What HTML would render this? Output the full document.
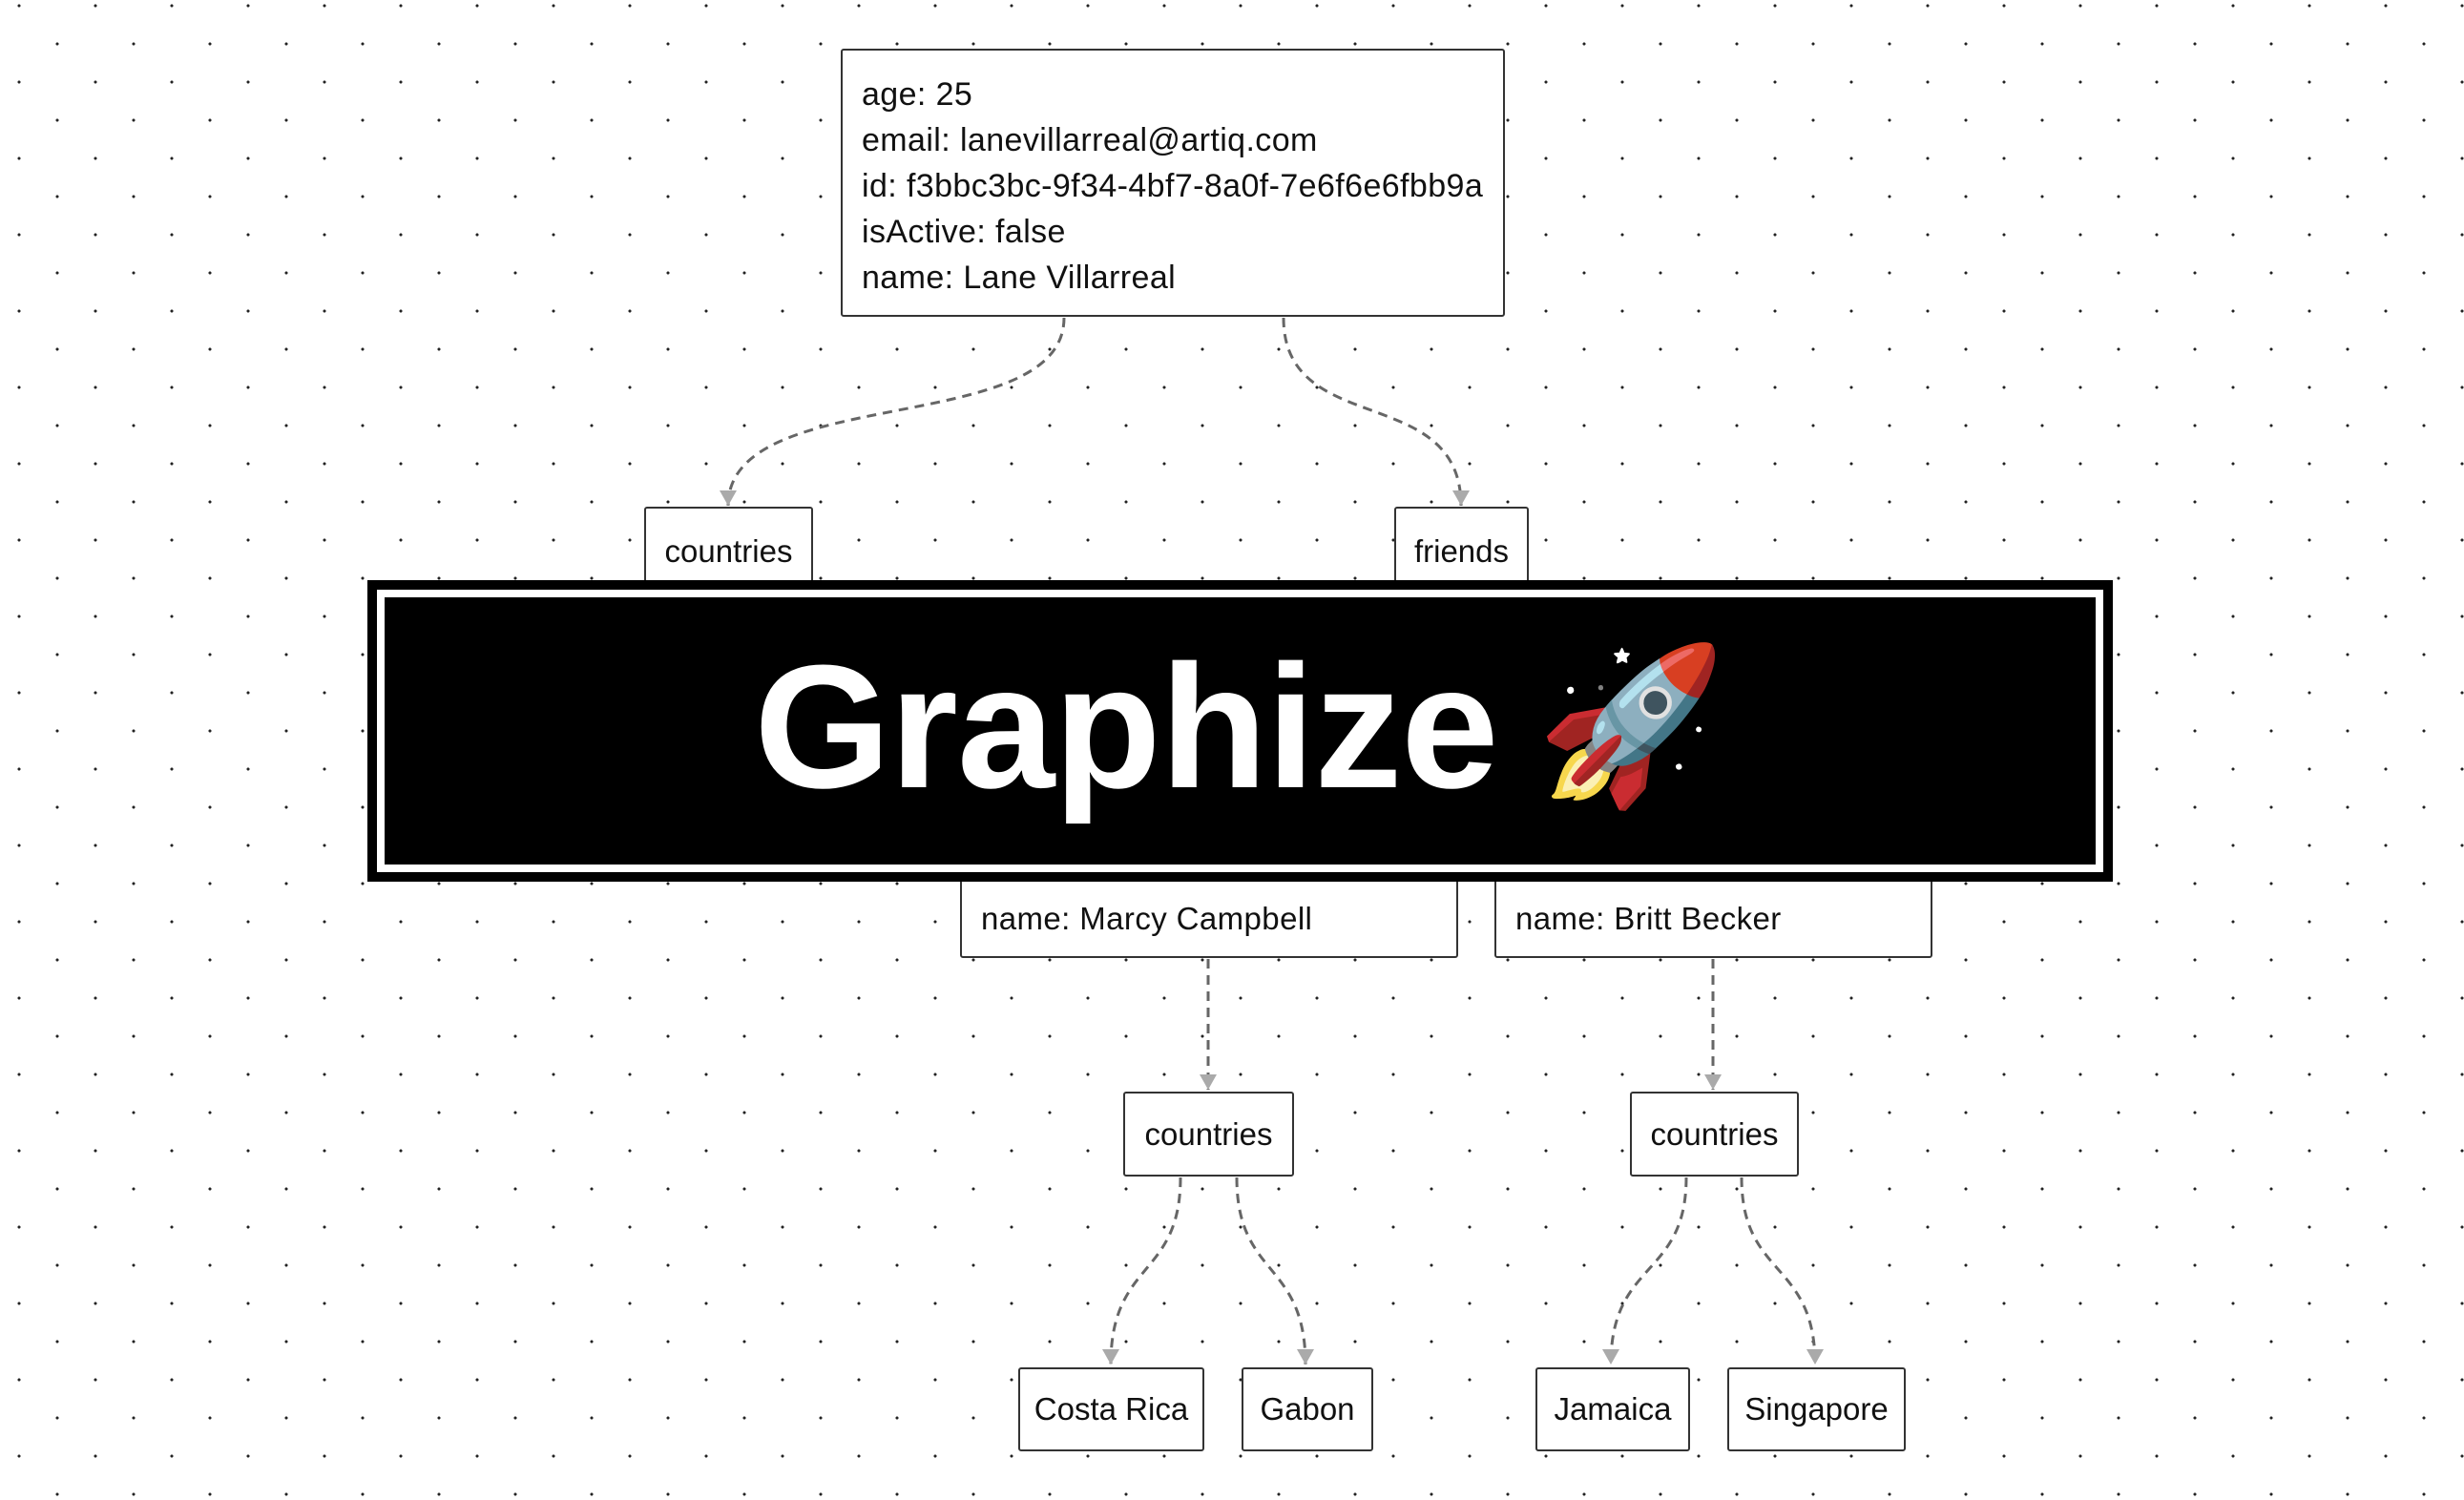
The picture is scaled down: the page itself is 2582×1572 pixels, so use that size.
<!DOCTYPE html>
<html><head><meta charset="utf-8"><style>
html,body{margin:0;padding:0}
body{width:2582px;height:1572px;position:relative;overflow:hidden;background-color:#fff;
background-image:radial-gradient(circle,#222 1.3px,transparent 1.8px),radial-gradient(circle,#222 1.3px,transparent 1.8px);
background-size:80px 80px,80px 80px;background-position:-20px -34px,20px 6px;
font-family:"Liberation Sans",sans-serif;color:#111}
.b{position:absolute;background:#fff;border:2px solid #333;border-radius:3px;box-sizing:border-box;font-size:33px}
.c{display:flex;align-items:center;justify-content:center}
svg{position:absolute;left:0;top:0}
</style></head><body>
<svg width="2582" height="1572">
<defs><marker id="a" markerWidth="16" markerHeight="18" refX="16" refY="9" orient="auto" markerUnits="userSpaceOnUse" viewBox="0 0 16 18"><path d="M0,0 L16,9 L0,18z" fill="#aaa"/></marker></defs>
<g fill="none" stroke="#666" stroke-width="3" stroke-dasharray="10,7">
<path d="M1115,333 C1115,460 763,400 763,530" marker-end="url(#a)"/>
<path d="M1345,333 C1345,460 1531,400 1531,530" marker-end="url(#a)"/>
<path d="M1266,1005 L1266,1142" marker-end="url(#a)"/>
<path d="M1795,1005 L1795,1142" marker-end="url(#a)"/>
<path d="M1237,1234 C1237,1340 1164,1320 1164,1430" marker-end="url(#a)"/>
<path d="M1296,1234 C1296,1340 1368,1320 1368,1430" marker-end="url(#a)"/>
<path d="M1767,1234 C1767,1340 1688,1320 1688,1430" marker-end="url(#a)"/>
<path d="M1825,1234 C1825,1340 1902,1320 1902,1430" marker-end="url(#a)"/>
</g></svg>
<div class="b" style="left:881px;top:51px;width:696px;height:281px;padding:22px 0 0 20px;line-height:48px;font-size:34px;letter-spacing:0.4px">age: 25<br>email: lanevillarreal@artiq.com<br>id: f3bbc3bc-9f34-4bf7-8a0f-7e6f6e6fbb9a<br>isActive: false<br>name: Lane Villarreal</div>
<div class="b c" style="left:675px;top:531px;width:177px;height:100px;align-items:flex-start;padding-top:26px">countries</div>
<div class="b c" style="left:1461px;top:531px;width:141px;height:100px;align-items:flex-start;padding-top:26px">friends</div>
<div class="b" style="left:1006px;top:900px;width:522px;height:104px;padding:42px 0 0 20px;letter-spacing:0.4px">name: Marcy Campbell</div>
<div class="b" style="left:1566px;top:900px;width:459px;height:104px;padding:42px 0 0 20px;letter-spacing:0.4px">name: Britt Becker</div>
<div style="position:absolute;left:385px;top:608px;width:1829px;height:316px;background:#000;box-sizing:border-box;padding:10px">
<div style="width:100%;height:100%;border:8px solid #fff;box-sizing:border-box;display:flex;align-items:center;justify-content:center">
<span style="color:#fff;font-weight:bold;font-size:184px;letter-spacing:-1px;margin-top:-10px">Graphize</span>
<span style="font-size:160px;margin-left:40px;margin-top:-10px;font-family:'Noto Color Emoji',sans-serif">🚀</span>
</div></div>
<div class="b c" style="left:1177px;top:1144px;width:179px;height:89px">countries</div>
<div class="b c" style="left:1708px;top:1144px;width:177px;height:89px">countries</div>
<div class="b c" style="left:1067px;top:1433px;width:195px;height:88px">Costa Rica</div>
<div class="b c" style="left:1301px;top:1433px;width:138px;height:88px">Gabon</div>
<div class="b c" style="left:1609px;top:1433px;width:162px;height:88px">Jamaica</div>
<div class="b c" style="left:1810px;top:1433px;width:187px;height:88px">Singapore</div>
</body></html>
